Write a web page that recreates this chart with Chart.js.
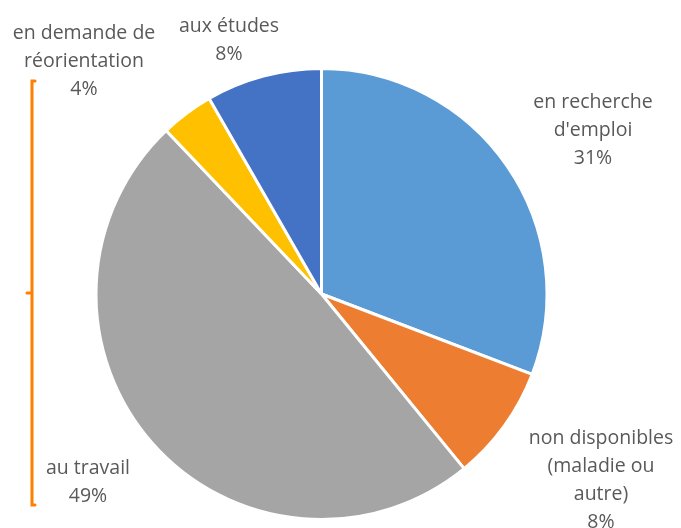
<!DOCTYPE html>
<html lang="fr">
<head>
    <meta charset="UTF-8">
    <title>Situation</title>
    <script src="https://cdn.jsdelivr.net/npm/chart.js"></script>
    <style>
        body { margin: 0; background: #fff; }
        #graf { display: block; }
    </style>
</head>
<body>
    <canvas id="graf" width="681" height="528"></canvas>
<script>
    // données
    const categories = ['en recherche d\'emploi', 'non disponibles (maladie ou autre)', 'au travail', 'en demande de réorientation', 'aux études'];
    const valeurs = [30.8, 8.3, 48.8, 3.8, 8.3];
    const couleurs = ['#5B9BD5', '#ED7D31', '#A5A5A5', '#FFC000', '#4472C4'];
    // libellés tels qu'affichés (coupures de ligne)
    const lignesLibelles = [
        ['en recherche', 'd\'emploi'],
        ['non disponibles', '(maladie ou', 'autre)'],
        ['au travail'],
        ['en demande de', 'réorientation'],
        ['aux études']
    ];

    // position du centre de chaque étiquette (x, y de la 1re ligne)
    const posEtiquettes = [[593, 102], [601, 438], [88, 468], [84, 33], [229, 26]];

    const etiquettes = {
        id: 'etiquettes',
        afterDraw(chart) {
            const ctx = chart.ctx;
            ctx.save();
            ctx.font = '19.5px "Open Sans", sans-serif';
            ctx.fillStyle = '#595959';
            ctx.textAlign = 'center';
            ctx.textBaseline = 'middle';
            valeurs.forEach(function (v, i) {
                const lignes = lignesLibelles[i].concat([Math.round(v) + '%']);
                const p = posEtiquettes[i];
                lignes.forEach(function (l, j) {
                    ctx.fillText(l, p[0], p[1] + j * 28);
                });
            });
            // accolade orange à gauche
            ctx.strokeStyle = '#FF8000';
            ctx.lineWidth = 3;
            ctx.lineCap = 'round';
            ctx.beginPath();
            ctx.moveTo(35, 81);
            ctx.lineTo(32, 81);
            ctx.lineTo(32, 505);
            ctx.lineTo(35, 505);
            ctx.moveTo(32, 293);
            ctx.lineTo(27, 293);
            ctx.stroke();
            ctx.restore();
        }
    };

    new Chart(document.getElementById('graf'), {
        type: 'pie',
        data: {
            labels: categories,
            datasets: [{
                data: valeurs,
                backgroundColor: couleurs,
                borderColor: '#FFFFFF',
                borderWidth: 3
            }]
        },
        options: {
            responsive: false,
            animation: false,
            layout: { padding: { left: 94, right: 132, top: 67, bottom: 7 } },
            plugins: {
                legend: { display: false },
                tooltip: { enabled: false }
            }
        },
        plugins: [etiquettes]
    });
</script>
</body>
</html>
